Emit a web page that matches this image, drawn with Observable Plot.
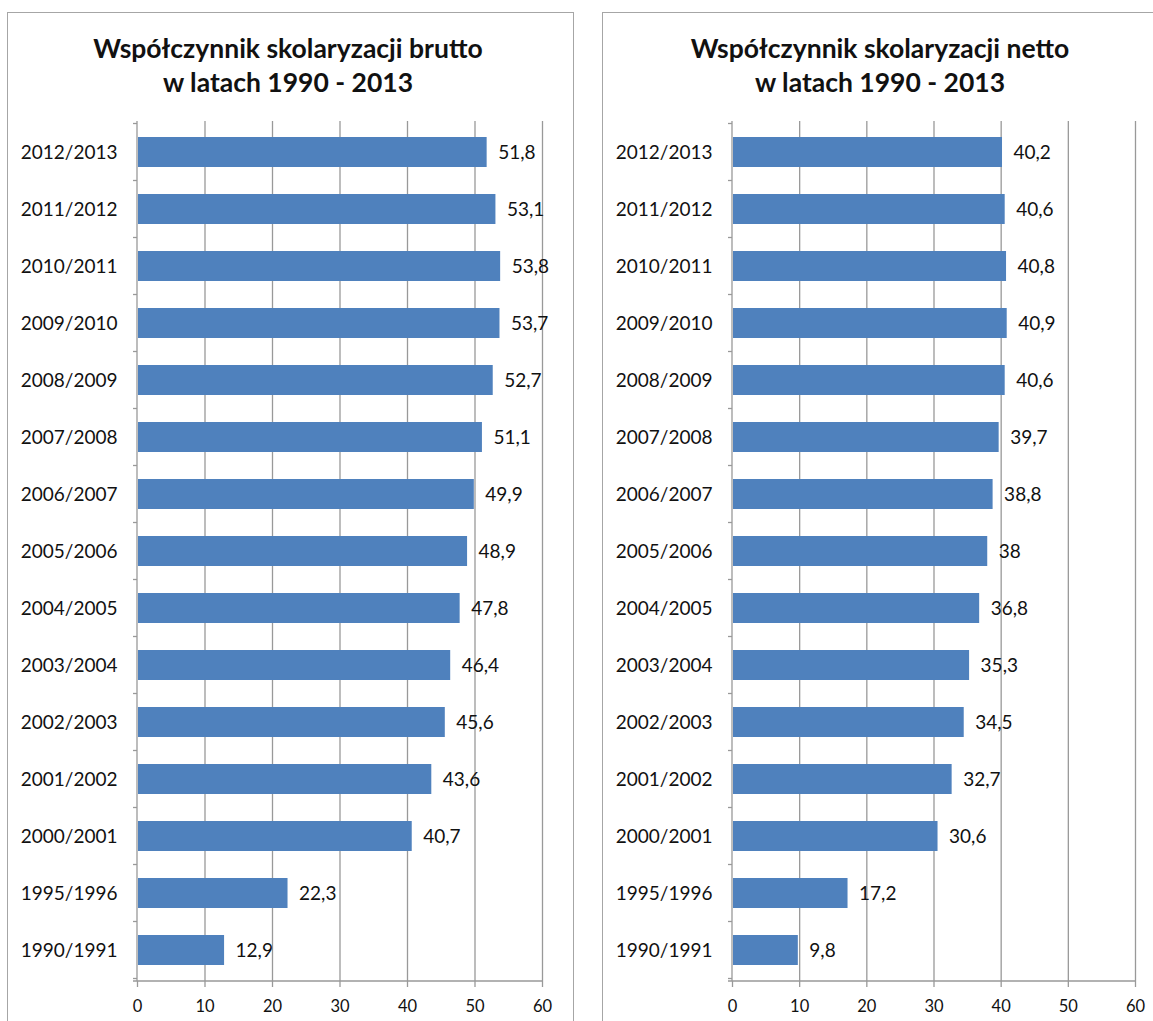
<!DOCTYPE html>
<html>
<head>
<meta charset="utf-8">
<script src="https://cdn.jsdelivr.net/npm/d3@7"></script>
<script src="https://cdn.jsdelivr.net/npm/@observablehq/plot@0.6"></script>
<style>
  html, body { margin: 0; padding: 0; background: #fff; overflow: hidden; }
  body { width: 1153px; height: 1021px; position: relative; font-family: Lato, "Open Sans", sans-serif; }
  .panel { position: absolute; top: 12px; border: 1.5px solid #a6a6a6; box-sizing: border-box; }
  .title { position: absolute; font-weight: bold; font-size: 26.5px; line-height: 34px; color: #111; text-align: center; white-space: nowrap; transform: translateX(-50%); }
  .chart { position: absolute; top: 108px; }
</style>
</head>
<body>
<div class="panel" style="left:7px; width:567px; height:1030px;"></div>
<div class="panel" style="left:602px; width:600px; height:1030px;"></div>
<div class="title" style="left:288px; top:31px;">Współczynnik skolaryzacji brutto<br>w latach 1990 - 2013</div>
<div class="title" style="left:880px; top:31px;">Współczynnik skolaryzacji netto<br>w latach 1990 - 2013</div>
<div id="left" class="chart" style="left:7px;"></div>
<div id="right" class="chart" style="left:602px;"></div>
<script>
const years = ["1990/1991","1995/1996","2000/2001","2001/2002","2002/2003","2003/2004","2004/2005","2005/2006","2006/2007","2007/2008","2008/2009","2009/2010","2010/2011","2011/2012","2012/2013"];
const brutto = [12.9, 22.3, 40.7, 43.6, 45.6, 46.4, 47.8, 48.9, 49.9, 51.1, 52.7, 53.7, 53.8, 53.1, 51.8];
const netto = [9.8, 17.2, 30.6, 32.7, 34.5, 35.3, 36.8, 38, 38.8, 39.7, 40.6, 40.9, 40.8, 40.6, 40.2];
const xTicks = [0, 10, 20, 30, 40, 50, 60];

const gridColor = "#999999";
const barColor = "#4F81BD";
const fmt = v => String(v).replace(".", ",");

function frameMark(index, scales, values, dimensions) {
  const {marginLeft, marginTop, height, marginBottom, width, marginRight} = dimensions;
  const y = scales.y;
  const g = d3.create("svg:g").attr("stroke", gridColor).attr("stroke-width", 1.3);
  const x0 = marginLeft, bottom = height - marginBottom, right = width - marginRight;
  g.append("line").attr("x1", x0 - 4).attr("x2", right).attr("y1", bottom).attr("y2", bottom);
  g.append("line").attr("x1", x0).attr("x2", x0).attr("y1", marginTop).attr("y2", bottom);
  const step = y.step();
  const domain = y.domain();
  const start = y(domain[0]) - (step - y.bandwidth()) / 2;
  for (let i = 0; i <= domain.length; i++) {
    const yy = start + i * step;
    g.append("line").attr("x1", x0 - 4).attr("x2", x0).attr("y1", yy).attr("y2", yy);
  }
  return g.node();
}

function makeChart(values, width, marginRight) {
  const data = years.map((y, i) => ({year: y, value: values[i]}));
  return Plot.plot({
    width,
    height: 913,
    marginLeft: 130,
    marginRight,
    marginTop: 13,
    marginBottom: 40,
    style: {fontFamily: "Lato, 'Open Sans', sans-serif", color: "#111", background: "transparent"},
    x: {domain: [0, 60]},
    y: {domain: years.slice().reverse(), paddingInner: 0.476, paddingOuter: 0.238},
    marks: [
      Plot.ruleX(xTicks.slice(1), {stroke: gridColor, strokeWidth: 1.3, strokeOpacity: 1}),
      Plot.barX(data, {x: "value", y: "year", fill: barColor, insetLeft: 1}),
      Plot.text(data, {x: "value", y: "year", text: d => fmt(d.value), textAnchor: "start", dx: 11, fontSize: 19, fill: "#111"}),
      frameMark,
      Plot.axisX({ticks: xTicks, tickSize: 6, tickPadding: 13, fontSize: 16.5, stroke: gridColor, strokeWidth: 1.3, tickFormat: d => String(d), label: null}),
      Plot.axisY({tickSize: 0, tickPadding: 20, fontSize: 19, label: null})
    ]
  });
}

document.getElementById("left").append(makeChart(brutto, 566, 31));
document.getElementById("right").append(makeChart(netto, 551, 18));
</script>
</body>
</html>
